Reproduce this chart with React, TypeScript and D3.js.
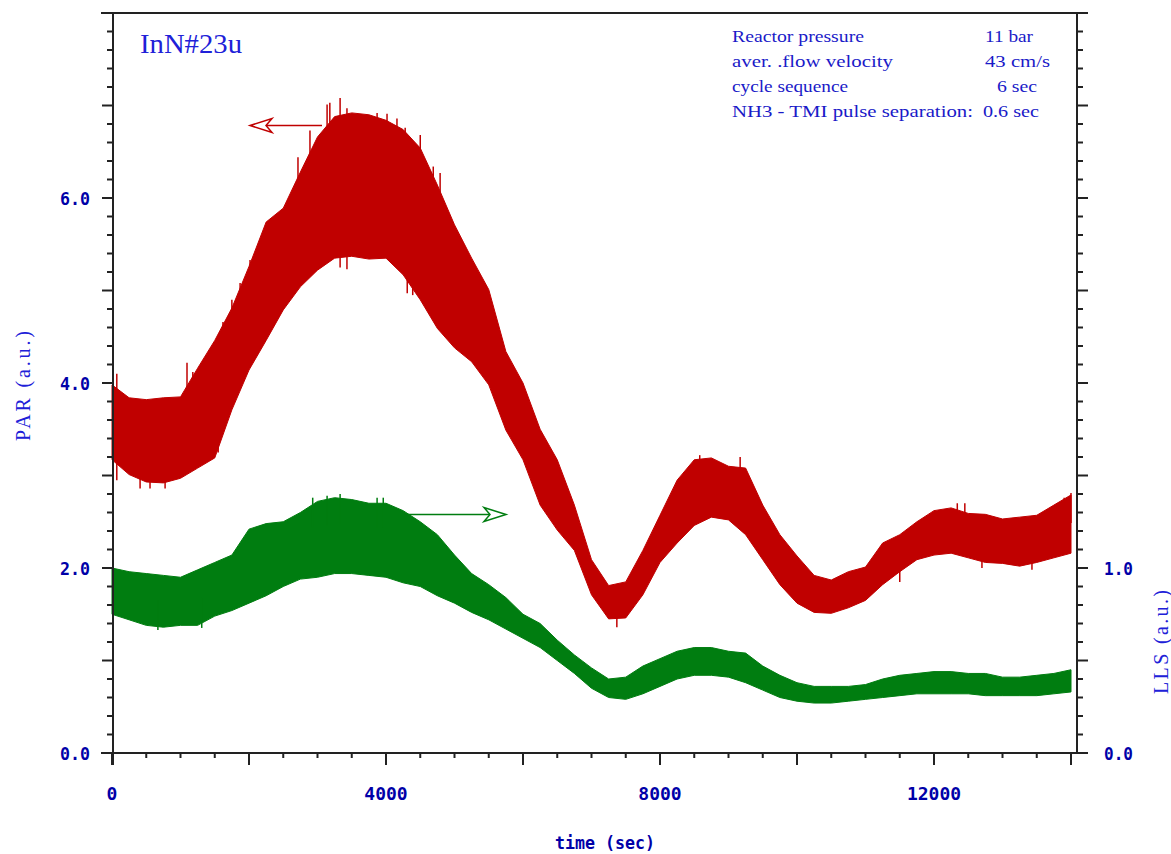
import React from "react";
import * as d3 from "d3";

// ---------- data ----------
const TIME = [0,250,500,750,1000,1250,1500,1750,2000,2250,2500,2750,3000,3250,3500,3750,4000,4250,4500,4750,5000,5250,5500,5750,6000,6250,6500,6750,7000,7250,7500,7750,8000,8250,8500,8750,9000,9250,9500,9750,10000,10250,10500,10750,11000,11250,11500,11750,12000,12250,12500,12750,13000,13250,13500,13750,14000];

// PAR (left axis) band: upper / lower envelope
const PAR_UPPER = [3.98,3.84,3.82,3.84,3.85,4.16,4.46,4.81,5.26,5.74,5.89,6.28,6.66,6.88,6.92,6.90,6.84,6.74,6.54,6.14,5.71,5.35,5.01,4.34,4.00,3.50,3.17,2.68,2.09,1.81,1.85,2.19,2.57,2.95,3.17,3.19,3.10,3.08,2.68,2.36,2.13,1.92,1.87,1.96,2.01,2.27,2.36,2.50,2.62,2.65,2.59,2.58,2.53,2.55,2.57,2.68,2.79];
const PAR_LOWER = [3.17,3.01,2.93,2.92,2.97,3.08,3.19,3.71,4.14,4.46,4.79,5.04,5.22,5.35,5.37,5.34,5.35,5.17,4.90,4.59,4.38,4.23,3.98,3.49,3.17,2.68,2.41,2.19,1.71,1.45,1.46,1.71,2.06,2.27,2.46,2.55,2.52,2.36,2.09,1.82,1.62,1.52,1.51,1.57,1.65,1.82,1.96,2.09,2.14,2.16,2.11,2.06,2.05,2.02,2.06,2.11,2.16];

// LLS (right axis) band: upper / lower envelope
const LLS_UPPER = [1.00,0.98,0.97,0.96,0.95,0.99,1.03,1.07,1.21,1.24,1.25,1.30,1.36,1.38,1.37,1.35,1.35,1.31,1.25,1.18,1.07,0.97,0.91,0.84,0.75,0.70,0.61,0.53,0.46,0.40,0.41,0.47,0.51,0.55,0.57,0.57,0.55,0.54,0.47,0.42,0.38,0.36,0.36,0.36,0.37,0.40,0.42,0.43,0.44,0.44,0.43,0.43,0.41,0.41,0.42,0.43,0.45];
const LLS_LOWER = [0.75,0.72,0.69,0.68,0.69,0.69,0.74,0.77,0.81,0.85,0.90,0.94,0.95,0.97,0.97,0.96,0.95,0.92,0.90,0.85,0.81,0.76,0.72,0.67,0.62,0.57,0.50,0.43,0.35,0.30,0.29,0.32,0.36,0.40,0.42,0.42,0.41,0.38,0.34,0.30,0.28,0.27,0.27,0.28,0.29,0.30,0.31,0.32,0.32,0.32,0.32,0.31,0.31,0.31,0.31,0.32,0.33];

// isolated noise spikes visible above / below the bands
const PAR_SPIKE_UP_T = [70,1095,1180,1620,1750,1870,2015,2715,2890,3140,3180,3330,3430,3870,4015,4160,4280,4500,4690,4790,8290,8580,9170,12340,12450,13900,14000];
const PAR_SPIKE_UP_V = [4.10,4.22,4.12,4.66,4.90,5.08,5.33,6.44,6.73,7.01,7.03,7.08,6.97,6.92,6.91,6.86,6.76,6.68,6.34,6.27,2.95,3.22,3.20,2.70,2.70,2.76,2.81];
const PAR_SPIKE_DN_T = [70,410,555,775,1550,3330,3430,4310,4390,4500,7370,11500,12700,13430];
const PAR_SPIKE_DN_V = [2.95,2.86,2.86,2.86,3.25,5.25,5.23,4.97,4.95,4.97,1.36,1.85,2.00,1.98];
const LLS_SPIKE_UP_T = [2930,3140,3330,3870,3960];
const LLS_SPIKE_UP_V = [1.38,1.39,1.40,1.38,1.38];
const LLS_SPIKE_DN_T = [670,1310];
const LLS_SPIKE_DN_V = [0.665,0.676];

const LEFT_LABELS = [0, 2, 4, 6];
const RIGHT_LABELS = [0, 1];
const X_LABELS = [0, 4000, 8000, 12000];

const INFO_LEFT = ["Reactor pressure", "aver. .flow velocity", "cycle sequence", "NH3 - TMI pulse separation:"];
const INFO_RIGHT = ["11 bar", "43 cm/s", "6 sec", "0.6 sec"];

// ---------- layout ----------
const W = 1171, H = 854;
const X0 = 112, X1 = 1071, XR = 1077;
const YB = 753, YT = 13;

const RED = "#c00000";
const GREEN = "#007d10";
const AX = "#222";
const LBL = "#0000a8";
const TXT = "#2020d8";

export default function App() {
  const x = d3.scaleLinear().domain([0, 14000]).range([X0, X1]);
  const yL = d3.scaleLinear().domain([0, 8]).range([YB, YT]);
  const yR = d3.scaleLinear().domain([0, 4]).range([YB, YT]);

  const parArea = d3.area<number>()
    .x((_, i) => x(TIME[i]))
    .y0((_, i) => yL(PAR_LOWER[i]))
    .y1((_, i) => yL(PAR_UPPER[i]))
    .curve(d3.curveLinear);
  const llsArea = d3.area<number>()
    .x((_, i) => x(TIME[i]))
    .y0((_, i) => yR(LLS_LOWER[i]))
    .y1((_, i) => yR(LLS_UPPER[i]))
    .curve(d3.curveLinear);

  const leftMinor = d3.range(0, 8.0001, 0.2);
  const rightMinor = d3.range(0, 4.0001, 0.1);
  const xMinor = d3.range(0, 14000.1, 500);

  const isInt = (v: number, step: number) => Math.abs(v / step - Math.round(v / step)) < 1e-6;

  const infoLW = [132, 161, 116, 241];
  const infoRX = [985, 985, 997, 983];
  const infoRW = [48, 65, 40, 56];

  const spike = (key: string, t: number, y: number, dir: number, color: string) => (
    <line key={key} x1={x(t)} x2={x(t)} y1={y} y2={y + dir * 30} stroke={color} strokeWidth={1.5} />
  );

  return (
    <svg width={W} height={H} style={{ position: "absolute", left: 0, top: 0, background: "#fff" }}>
      <rect width={W} height={H} fill="#fff" />
      {/* data bands */}
      <path d={llsArea(TIME) || ""} fill={GREEN} stroke={GREEN} strokeWidth={1} />
      {LLS_SPIKE_UP_T.map((t, i) => spike("gu" + i, t, yR(LLS_SPIKE_UP_V[i]), 1, GREEN))}
      {LLS_SPIKE_DN_T.map((t, i) => spike("gd" + i, t, yR(LLS_SPIKE_DN_V[i]), -1, GREEN))}
      <path d={parArea(TIME) || ""} fill={RED} stroke={RED} strokeWidth={1} />
      {PAR_SPIKE_UP_T.map((t, i) => spike("ru" + i, t, yL(PAR_SPIKE_UP_V[i]), 1, RED))}
      {PAR_SPIKE_DN_T.map((t, i) => spike("rd" + i, t, yL(PAR_SPIKE_DN_V[i]), -1, RED))}

      {/* arrows */}
      <line x1={266} x2={322} y1={125.5} y2={125.5} stroke={RED} strokeWidth={1.5} />
      <path d="M250,125.5 L272,118.5 L266,125.5 L272,132.5 Z" fill="#fff" stroke={RED} strokeWidth={1.5} />
      <line x1={405} x2={489} y1={514.5} y2={514.5} stroke={GREEN} strokeWidth={1.5} />
      <line x1={405.5} x2={405.5} y1={514.5} y2={519} stroke={GREEN} strokeWidth={1.5} />
      <path d="M506,514.5 L484,507.5 L490,514.5 L484,521.5 Z" fill="#fff" stroke={GREEN} strokeWidth={1.5} />

      {/* frame */}
      <line x1={101} x2={1088} y1={YT} y2={YT} stroke={AX} strokeWidth={2} />
      <line x1={101} x2={1088} y1={YB} y2={YB} stroke={AX} strokeWidth={2} />
      <line x1={X0 + 1} x2={X0 + 1} y1={YT} y2={765} stroke={AX} strokeWidth={2} />
      <line x1={XR} x2={XR} y1={YT} y2={YB} stroke={AX} strokeWidth={2} />

      {/* left ticks */}
      {leftMinor.map((v, i) => {
        const major = isInt(v, 1);
        return <line key={"lt" + i} x1={X0 + 1} x2={X0 + 1 - (major ? 11 : 6)} y1={yL(v)} y2={yL(v)} stroke={AX} strokeWidth={2} />;
      })}
      {/* right ticks */}
      {rightMinor.map((v, i) => {
        const major = isInt(v, 0.5);
        return <line key={"rt" + i} x1={XR} x2={XR + (major ? 11 : 6)} y1={yR(v)} y2={yR(v)} stroke={AX} strokeWidth={2} />;
      })}
      {/* x ticks */}
      {xMinor.map((v, i) => {
        const major = isInt(v, 2000);
        return <line key={"xt" + i} x1={x(v)} x2={x(v)} y1={YB} y2={YB + (major ? 12 : 5)} stroke={AX} strokeWidth={2} />;
      })}

      {/* tick labels */}
      <g fontFamily="DejaVu Sans Mono" fontWeight="bold" fontSize={18} fill={LBL}>
        {LEFT_LABELS.map((v) => (
          <text key={"ll" + v} x={90} y={yL(v) + 7} textAnchor="end" textLength={30} lengthAdjust="spacingAndGlyphs">{v.toFixed(1)}</text>
        ))}
        {RIGHT_LABELS.map((v) => (
          <text key={"rl" + v} x={1133} y={yR(v) + 7} textAnchor="end" textLength={29} lengthAdjust="spacingAndGlyphs">{v.toFixed(1)}</text>
        ))}
        {X_LABELS.map((v) => (
          <text key={"xl" + v} x={x(v)} y={800} textAnchor="middle">{String(v)}</text>
        ))}
        <text x={605} y={849} textAnchor="middle" textLength={100} lengthAdjust="spacingAndGlyphs">time (sec)</text>
      </g>

      {/* axis titles */}
      <text transform="translate(30,386) rotate(-90)" textAnchor="middle" fontFamily="Liberation Serif" fontSize={20} fill={TXT} textLength={110} lengthAdjust="spacing">PAR  (a.u.)</text>
      <text transform="translate(1168,642) rotate(-90)" textAnchor="middle" fontFamily="Liberation Serif" fontSize={20} fill={TXT} textLength={104} lengthAdjust="spacing">LLS  (a.u.)</text>

      {/* sample name */}
      <text x={140} y={53} fontFamily="Liberation Serif" fontSize={28} fill={TXT} textLength={102} lengthAdjust="spacingAndGlyphs">InN#23u</text>

      {/* info block */}
      <g fontFamily="Liberation Serif" fontSize={17} fill="#1a1ac8">
        {INFO_LEFT.map((s, i) => (
          <text key={"il" + i} x={732} y={42 + i * 25} textLength={infoLW[i]} lengthAdjust="spacingAndGlyphs">{s}</text>
        ))}
        {INFO_RIGHT.map((s, i) => (
          <text key={"ir" + i} x={infoRX[i]} y={42 + i * 25} textLength={infoRW[i]} lengthAdjust="spacingAndGlyphs">{s}</text>
        ))}
      </g>
    </svg>
  );
}
